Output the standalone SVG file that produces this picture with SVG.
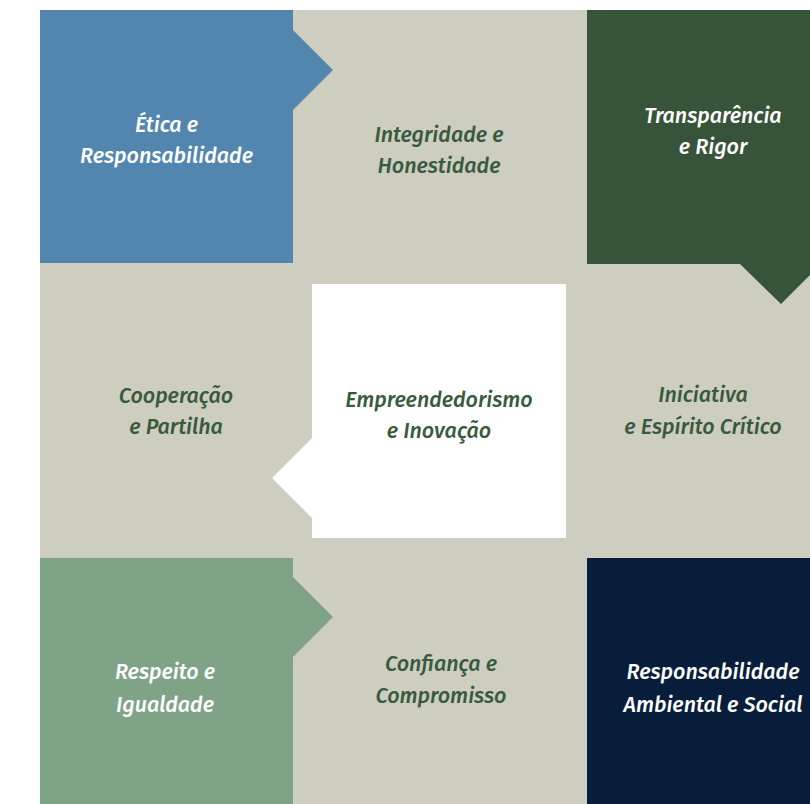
<svg xmlns="http://www.w3.org/2000/svg" width="810" height="804" viewBox="0 0 810 804">
<style>
  text { font-family: "Fira Sans", Roboto, "Noto Sans", "Liberation Sans", sans-serif; font-style: italic; font-weight: 500; font-size: 21.5px; text-anchor: middle; }
  .light { fill: #ffffff; }
  .dark { fill: #385A3E; }
</style>
<rect id="background" x="40" y="10" width="770" height="794" fill="#CDCDC0"/>
<g id="connectors"></g>
<g id="etica">
  <path d="M40,10 H293 V30 L333,70 L293,110 V263 H40 Z" fill="#5286AE"/>
  <text class="light" x="166.5" y="132">Ética e</text>
  <text class="light" x="166.5" y="163">Responsabilidade</text>
</g>
<g id="integridade">
  <text class="dark" x="439" y="141.5">Integridade e</text>
  <text class="dark" x="439" y="173">Honestidade</text>
</g>
<g id="transparencia">
  <path d="M587,10 H810 V275 L781,304 L740,264 H587 Z" fill="#37533A"/>
  <text class="light" x="713" y="123">Transparência</text>
  <text class="light" x="713" y="154">e Rigor</text>
</g>
<g id="cooperacao">
  <text class="dark" x="176" y="403">Cooperação</text>
  <text class="dark" x="176" y="434">e Partilha</text>
</g>
<g id="empreendedorismo">
  <path d="M312,284 H566 V538 H312 V518 L272,478 L312,438 Z" fill="#ffffff"/>
  <text class="dark" x="439" y="406.5">Empreendedorismo</text>
  <text class="dark" x="439" y="438">e Inovação</text>
</g>
<g id="iniciativa">
  <text class="dark" x="703" y="402">Iniciativa</text>
  <text class="dark" x="703" y="434">e Espírito Crítico</text>
</g>
<g id="respeito">
  <path d="M40,558 H293 V577 L333,617 L293,657 V804 H40 Z" fill="#7FA387"/>
  <text class="light" x="165" y="679">Respeito e</text>
  <text class="light" x="165" y="712">Igualdade</text>
</g>
<g id="confianca">
  <text class="dark" x="441" y="671">Confiança e</text>
  <text class="dark" x="441" y="703">Compromisso</text>
</g>
<g id="responsabilidade-ambiental">
  <rect x="587" y="558" width="223" height="246" fill="#071D3A"/>
  <text class="light" x="713" y="679">Responsabilidade</text>
  <text class="light" x="713" y="712">Ambiental e Social</text>
</g>
</svg>
